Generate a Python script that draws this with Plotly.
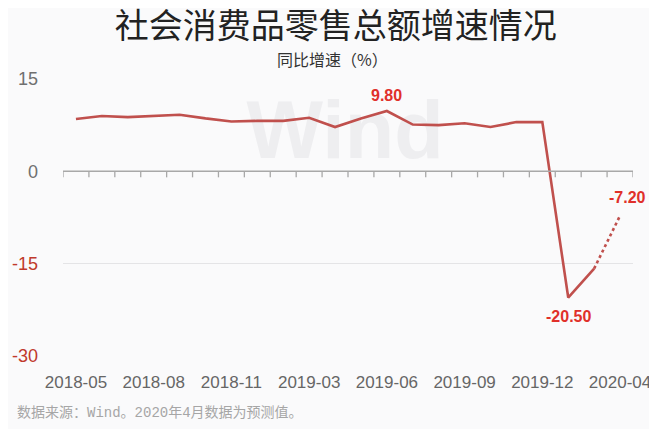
import plotly.graph_objects as go

# 社会消费品零售总额 同比增速（%），2020-04 为预测值
months = [
    "2018-05", "2018-06", "2018-07", "2018-08", "2018-09", "2018-10", "2018-11", "2018-12",
    "2019-02", "2019-03", "2019-04", "2019-05", "2019-06", "2019-07", "2019-08", "2019-09",
    "2019-10", "2019-11", "2019-12", "2020-02", "2020-03", "2020-04",
]
growth = [
    8.5, 9.0, 8.8, 9.0, 9.2, 8.6, 8.1, 8.2,
    8.2, 8.7, 7.2, 8.6, 9.8, 7.6, 7.5, 7.8,
    7.2, 8.0, 8.0, -20.5, -15.8, -7.2,
]
n_actual = 21  # last value is forecast

x_labels = ["2018-05", "2018-08", "2018-11", "2019-03", "2019-06", "2019-09", "2019-12", "2020-04"]
y_ticks = [15, 0, -15, -30]
y_tick_colors = ["#707070", "#707070", "#c0392b", "#c0392b"]

# labelled points: (month, value, xshift, yshift)
callouts = [("2019-06", 9.8, 0, 16), ("2020-02", -20.5, 0, -19), ("2020-04", -7.2, 7, 18)]

LINE = "#c0504d"
LABEL_RED = "#e0302a"
FONT = "Liberation Sans, Arial, sans-serif"
CJK = "Noto Sans CJK SC, sans-serif"

fig = go.Figure()

fig.add_trace(go.Scatter(
    x=months[:n_actual], y=growth[:n_actual], mode="lines",
    line=dict(color=LINE, width=2.6), hoverinfo="x+y", showlegend=False,
))
fig.add_trace(go.Scatter(
    x=months[n_actual - 1:], y=growth[n_actual - 1:], mode="lines",
    line=dict(color=LINE, width=2.6, dash="dot"), hoverinfo="x+y", showlegend=False,
))

shapes = [
    # "Wind" watermark, kept under the line
    dict(type="rect", xref="paper", yref="paper", x0=0.3, x1=0.69, y0=0.72, y1=0.97,
         line=dict(width=0), fillcolor="rgba(0,0,0,0)", layer="below",
         label=dict(text="<b>Wind</b>", textposition="middle center",
                    font=dict(family="Liberation Sans, Arial", size=81, color="#eeeef0"))),
    # x axis line drawn at y=0
    dict(type="line", xref="x", yref="y", x0=-0.5, x1=len(months) - 0.5, y0=0, y1=0,
         line=dict(color="#a8a8a8", width=1.5), layer="above"),
]
# tick marks on category boundaries
for k in range(len(months) + 1):
    shapes.append(dict(type="line", xref="x", yref="y", ysizemode="pixel", yanchor=0,
                       x0=k - 0.5, x1=k - 0.5, y0=0, y1=-6,
                       line=dict(color="#a8a8a8", width=1.3)))

annotations = [
    # subtitle
    dict(text="同比增速（%）", x=0.472, y=1, xref="paper", yref="paper", yshift=20,
         showarrow=False, xanchor="center", yanchor="middle",
         font=dict(family=CJK, size=16, color="#333333")),
    # footnote
    dict(text="数据来源：Wind。2020年4月数据为预测值。", x=-0.084, y=0, xref="paper", yref="paper",
         xanchor="left", yanchor="middle", yshift=-57, showarrow=False,
         font=dict(family="Liberation Mono, " + CJK, size=14, color="#a6a6a6")),
]
for m, v, dx, dy in callouts:
    annotations.append(dict(text=f"<b>{v:.2f}</b>", x=m, y=v, xref="x", yref="y", showarrow=False,
                            xshift=dx, yshift=dy, font=dict(family=FONT, size=16, color=LABEL_RED)))

# page body keeps an 8px margin, so the figure is a bit smaller than the window
fig.update_layout(
    width=649, height=421,
    margin=dict(l=55, r=24, t=71, b=73),
    paper_bgcolor="#fafafb", plot_bgcolor="#fafafb",
    title=dict(text="社会消费品零售总额增速情况", x=0.505, xanchor="center", y=0.957, yanchor="middle",
               xref="container", yref="container",
               font=dict(family=CJK, size=34, color="#222222")),
    xaxis=dict(
        type="category", categoryorder="array", categoryarray=months,
        range=[-0.5, len(months) - 0.5], automargin=False,
        tickmode="array", tickvals=x_labels, ticktext=x_labels,
        showgrid=False, showline=False, zeroline=False, ticks="",
        ticklabelstandoff=14,
        tickfont=dict(family=FONT, size=17, color="#666666"),
    ),
    yaxis=dict(
        range=[-30, 15], tickmode="array", tickvals=y_ticks, automargin=False,
        ticktext=[f'<span style="color:{c}">{t}</span>' for t, c in zip(y_ticks, y_tick_colors)],
        showgrid=True, gridcolor="#e4e4e6", gridwidth=1,
        zeroline=False, showline=False, ticks="",
        ticklabelstandoff=24,
        tickfont=dict(family=FONT, size=18, color="#707070"),
    ),
    shapes=shapes,
    annotations=annotations,
    showlegend=False,
)

fig.write_html("out.html")
